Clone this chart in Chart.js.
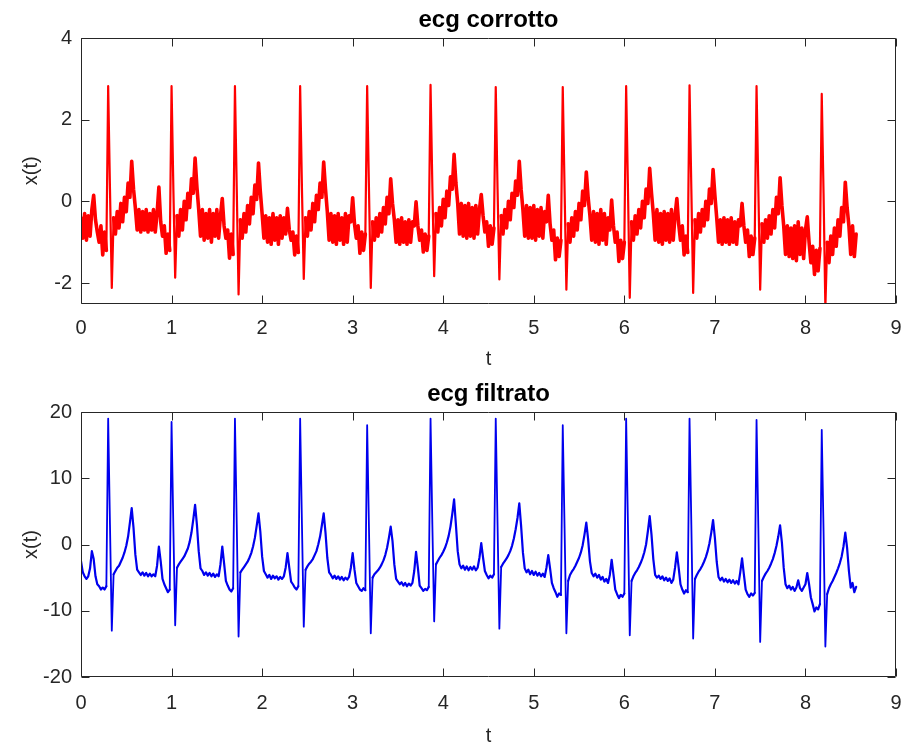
<!DOCTYPE html>
<html lang="it">
<head>
  <meta charset="UTF-8">
  <title>ecg corrotto / ecg filtrato</title>
  <script src="https://cdn.jsdelivr.net/npm/chart.js"></script>
  <style>
    html, body { margin: 0; padding: 0; background: #fff; overflow: hidden; }
    canvas { position: absolute; left: 0; }
    #top { top: 0; }
    #bottom { top: 374px; }
  </style>
</head>
<body>
  <canvas id="top" width="905" height="374"></canvas>
  <canvas id="bottom" width="905" height="374"></canvas>

  <script>
    // passo di campionamento (s): il campione i sta a t = i * dt
    const dt = 0.02;

    const xTicks = [0, 1, 2, 3, 4, 5, 6, 7, 8, 9];
    const yTicksCorrotto = [-2, 0, 2, 4];
    const yTicksFiltrato = [-20, -10, 0, 10, 20];

    // ecg corrotto, un battito per riga (dal picco R al campione prima del picco R successivo)
    const ecgCorrotto = [
      -0.4, -0.9, -0.3, -0.95, -0.35, -0.85, -0.2, 0.15, -0.45, -0.75, -1.0, -0.6, -1.31, -0.75, -1.2,
      2.82, 0.3, -2.12, -0.4, -0.8, -0.25, -0.65, -0.05, -0.5, 0.1, -0.25, 0.45, 0.1, 0.98, 0.3, -0.15, -0.7, -0.2, -0.75, -0.25, -0.7, -0.2, -0.75, -0.3, -0.7, -0.2, -0.75, -0.3, 0.35, -0.5, -0.85, -0.6, -1.27, -0.8, -1.2,
      2.82, 0.3, -1.87, -0.35, -0.85, -0.2, -0.7, 0.0, -0.45, 0.2, -0.15, 0.55, 0.2, 1.06, 0.35, -0.2, -0.85, -0.2, -0.95, -0.3, -0.9, -0.2, -1.0, -0.3, -0.85, -0.2, -0.9, -0.35, 0.07, -0.6, -0.9, -0.7, -1.39, -0.8, -1.3,
      2.82, 0.3, -2.28, -0.45, -0.9, -0.3, -0.75, -0.1, -0.55, 0.1, -0.3, 0.4, 0.05, 0.94, 0.25, -0.3, -0.9, -0.35, -1.0, -0.4, -1.05, -0.3, -0.95, -0.4, -1.05, -0.35, -0.9, -0.4, -0.8, -0.17, -0.7, -0.95, -0.75, -1.31, -0.85, -1.25,
      2.82, 0.3, -1.9, -0.4, -0.85, -0.25, -0.7, -0.05, -0.5, 0.15, -0.2, 0.45, 0.1, 0.96, 0.3, -0.25, -0.95, -0.3, -1.0, -0.35, -1.05, -0.3, -0.95, -0.4, -1.05, -0.3, -1.0, -0.35, -0.5, 0.09, -0.55, -0.9, -0.6, -1.27, -0.75, -1.2, -0.8,
      2.82, 0.3, -2.12, -0.5, -0.95, -0.4, -0.85, -0.3, -0.75, -0.15, -0.55, 0.1, -0.3, 0.55, -0.05, -0.45, -1.0, -0.45, -1.05, -0.4, -1.0, -0.5, -1.05, -0.45, -1.0, -0.5, -0.6, -0.01, -0.6, -0.95, -0.7, -1.24, -0.8, -1.2, -0.85,
      2.85, 0.35, -1.83, -0.3, -0.75, -0.15, -0.6, 0.05, -0.4, 0.25, -0.1, 0.6, 0.3, 1.15, 0.45, -0.05, -0.8, -0.05, -0.85, -0.1, -0.9, -0.05, -0.85, -0.15, -0.9, -0.1, -0.8, -0.2, 0.17, -0.35, -0.75, -0.5, -1.1, -0.6, -1.05, -0.65,
      2.8, 0.3, -1.91, -0.35, -0.8, -0.2, -0.65, 0.0, -0.45, 0.2, -0.15, 0.5, 0.15, 0.98, 0.3, -0.2, -0.85, -0.1, -0.9, -0.15, -0.9, -0.1, -0.95, -0.2, -0.85, -0.15, -0.9, -0.25, -0.5, 0.15, -0.55, -0.95, -0.7, -1.43, -0.9, -1.35, -0.95,
      2.8, 0.3, -2.16, -0.55, -1.0, -0.4, -0.85, -0.25, -0.7, -0.05, -0.45, 0.25, -0.1, 0.72, 0.1, -0.35, -0.95, -0.25, -1.0, -0.3, -1.05, -0.2, -0.95, -0.3, -1.05, -0.4, -0.7, 0.03, -0.6, -1.0, -0.75, -1.47, -0.95, -1.4, -1.0,
      2.82, 0.3, -2.36, -0.5, -0.95, -0.35, -0.8, -0.2, -0.65, 0.0, -0.4, 0.3, -0.05, 0.81, 0.2, -0.3, -0.95, -0.2, -1.0, -0.3, -1.05, -0.25, -0.95, -0.3, -1.0, -0.2, -0.95, -0.35, 0.07, -0.55, -0.95, -0.6, -1.31, -0.85, -1.25,
      2.84, 0.3, -2.24, -0.45, -0.9, -0.3, -0.75, -0.2, -0.6, 0.0, -0.45, 0.3, -0.05, 0.78, 0.15, -0.4, -1.0, -0.45, -1.05, -0.4, -1.0, -0.45, -1.05, -0.4, -1.0, -0.5, -1.05, -0.45, -0.6, -0.05, -0.6, -1.0, -0.7, -1.35, -0.85, -1.3, -0.9,
      2.82, 0.3, -2.16, -0.55, -1.0, -0.45, -0.9, -0.35, -0.8, -0.2, -0.65, 0.1, -0.3, 0.58, -0.1, -0.6, -1.3, -0.6, -1.35, -0.65, -1.4, -0.6, -1.45, -0.5, -1.3, -0.65, -1.4, -0.7, -0.38, -1.0, -1.5, -1.1, -1.79, -1.2, -1.7, -1.15,
      2.63, 0.2, -2.6, -1.0, -1.5, -0.85, -1.3, -0.65, -1.1, -0.45, -0.85, -0.15, -0.5, 0.47, -0.15, -0.6, -1.3, -0.6, -1.35, -0.8
    ];

    // ecg filtrato, stessa base dei tempi
    const ecgFiltrato = [
      -2.5, -4.2, -4.8, -5.2, -4.8, -3.6, -1.0, -2.2, -4.8, -6.0, -6.3, -6.8, -6.5, -6.8, -6.3,
      19, 3, -13, -4.5, -4.0, -3.5, -3.2, -2.6, -2.0, -1.2, -0.2, 1.2, 3.3, 5.5, 2.5, -1.5, -3.8, -4.2, -4.6, -4.2, -4.7, -4.3, -4.8, -4.4, -4.8, -4.5, -4.8, -3.2, -0.3, -2.5, -5.2, -6.0, -6.6, -7.2, -6.8,
      18.5, 2.5, -12.2, -3.5, -3.0, -2.6, -2.2, -1.8, -1.2, -0.6, 0.4, 1.8, 3.8, 6.0, 3.0, -1.0, -3.6, -4.0, -4.6, -4.2, -4.7, -4.3, -4.8, -4.4, -4.9, -4.5, -4.8, -3.0, -0.3, -2.8, -5.5, -6.2, -6.8, -7.1, -6.6,
      19, 3, -13.9, -4.2, -3.8, -3.4, -3.0, -2.6, -2.0, -1.3, -0.3, 1.0, 2.8, 4.7, 2.0, -1.8, -4.0, -4.5, -5.0, -4.6, -5.2, -4.7, -5.1, -4.8, -5.3, -4.9, -5.2, -4.8, -3.5, -1.3, -3.5, -5.6, -6.0, -6.5, -6.8, -6.3,
      19, 3, -12.4, -3.8, -3.3, -2.9, -2.6, -2.2, -1.6, -1.0, 0.0, 1.2, 2.9, 4.7, 1.8, -2.0, -4.2, -4.6, -5.1, -4.7, -5.2, -4.8, -5.3, -4.9, -5.4, -5.0, -5.3, -4.9, -3.5, -1.3, -3.8, -5.8, -6.3, -6.8, -7.0, -6.6, -6.9,
      18, 2.5, -13.4, -5.0, -4.5, -4.2, -3.9, -3.5, -3.0, -2.4, -1.6, -0.5, 1.0, 2.7, 0.5, -3.0, -5.2, -5.6, -6.0, -5.7, -6.2, -5.8, -6.3, -5.9, -6.2, -5.8, -4.0, -1.1, -3.5, -6.2, -6.6, -7.0, -6.7, -6.9, -6.4,
      19, 3, -11.6, -3.0, -2.5, -2.0, -1.6, -1.1, -0.5, 0.3, 1.3, 2.7, 4.6, 6.8, 3.0, -1.0, -3.0, -3.6, -3.2, -3.8, -3.3, -3.9, -3.4, -3.8, -3.3, -3.9, -3.5, -2.0, 0.2, -2.0, -4.0, -4.6, -5.1, -4.7, -5.0, -4.5,
      19, 3, -12.7, -3.4, -2.9, -2.5, -2.1, -1.6, -1.0, -0.2, 0.9, 2.3, 4.0, 6.2, 2.8, -1.2, -3.6, -4.2, -3.8, -4.5, -4.0, -4.6, -4.1, -4.7, -4.3, -4.8, -4.4, -4.9, -3.5, -1.6, -3.6, -5.8, -6.6, -7.2, -7.9, -7.4, -7.6,
      18, 2.5, -13.4, -5.5, -4.6, -4.1, -3.7, -3.2, -2.6, -2.0, -1.2, -0.1, 1.5, 3.3, 0.8, -2.5, -4.3, -4.8, -4.4, -5.0, -4.6, -5.3, -4.9, -5.6, -5.2, -5.8, -4.6, -2.3, -4.5, -6.8, -7.5, -8.1, -7.6, -7.9, -7.4,
      19, 3, -13.7, -5.5, -4.8, -4.3, -3.9, -3.4, -2.8, -2.1, -1.2, 0.0, 2.0, 4.3, 1.5, -2.2, -4.6, -5.0, -4.7, -5.2, -4.8, -5.4, -5.0, -5.5, -5.1, -5.8, -5.3, -3.5, -1.2, -3.5, -6.0, -6.8, -7.4, -6.9, -7.2,
      19, 3, -14.2, -5.2, -4.6, -4.1, -3.7, -3.2, -2.6, -1.9, -1.0, 0.2, 1.8, 3.7, 1.0, -2.6, -4.9, -5.4, -5.0, -5.6, -5.2, -5.7, -5.3, -5.8, -5.4, -5.9, -5.5, -6.0, -4.2, -2.1, -4.5, -6.8, -7.5, -7.9, -7.4, -7.7, -7.3,
      18.8, 2.5, -14.7, -5.5, -4.9, -4.4, -4.0, -3.5, -2.9, -2.2, -1.3, -0.2, 1.2, 2.9, 0.3, -3.5, -6.0, -6.6, -6.2, -6.8, -6.4, -7.0, -6.5, -5.4, -6.6, -7.0, -6.5, -6.0, -4.3, -6.0, -8.0, -9.0, -10.1, -9.5, -9.8, -9.0,
      17.3, 2.0, -15.4, -7.5, -6.6, -6.0, -5.5, -4.9, -4.3, -3.6, -2.8, -1.8, -0.3, 1.8, -0.5, -4.0, -6.5, -5.8, -7.2, -6.4
    ];

    const FONT = '"Liberation Sans", Arial, Helvetica, sans-serif';
    const AXIS_COLOR = '#262626';

    // cornice e tacche interne come in MATLAB (box on)
    const matlabBox = {
      id: 'matlabBox',
      afterDatasetsDraw(chart) {
        const { ctx, chartArea: a, scales: { x, y } } = chart;
        const L = Math.round(a.left) + 0.5, R = Math.round(a.right) - 0.5;
        const T = Math.round(a.top) + 0.5, B = Math.round(a.bottom) - 0.5;
        ctx.save();
        ctx.strokeStyle = AXIS_COLOR;
        ctx.lineWidth = 1;
        ctx.beginPath();
        ctx.rect(L, T, R - L, B - T);
        x.ticks.forEach(t => {
          const px = Math.round(x.getPixelForValue(t.value)) + 0.5;
          ctx.moveTo(px, B); ctx.lineTo(px, B - 8);
          ctx.moveTo(px, T); ctx.lineTo(px, T + 8);
        });
        y.ticks.forEach(t => {
          const py = Math.round(y.getPixelForValue(t.value)) + 0.5;
          ctx.moveTo(L, py); ctx.lineTo(L + 8, py);
          ctx.moveTo(R, py); ctx.lineTo(R - 8, py);
        });
        ctx.stroke();
        ctx.restore();
      }
    };

    // thin: spessore sui tratti ripidi (QRS), thick: spessore sul resto del tracciato
    function makeChart(id, title, values, color, thick, thin, steep, yMin, yMax, yTicks, plotBottom, xTickPad, xTitlePad) {
      return new Chart(document.getElementById(id), {
        type: 'line',
        data: {
          datasets: [{
            data: values.map((v, i) => ({ x: +(i * dt).toFixed(2), y: v })),
            borderColor: color,
            borderWidth: thick,
            borderJoinStyle: 'round',
            borderCapStyle: 'round',
            pointRadius: 0,
            tension: 0,
            clip: 0,
            segment: {
              borderWidth: c => Math.abs(c.p1.parsed.y - c.p0.parsed.y) > steep ? thin : thick
            }
          }]
        },
        options: {
          responsive: false,
          animation: false,
          events: [],
          layout: { padding: { left: 0, right: 9, top: 0, bottom: 0 } },
          plugins: {
            legend: { display: false },
            tooltip: { enabled: false },
            title: {
              display: true,
              text: title,
              fullSize: false,
              color: '#000',
              font: { family: FONT, size: 24, weight: 'bold', lineHeight: 1.2 },
              padding: { top: 5.6, bottom: 3.6 }
            }
          },
          scales: {
            x: {
              type: 'linear',
              min: 0,
              max: 9,
              afterBuildTicks: s => { s.ticks = xTicks.map(v => ({ value: v })); },
              afterFit: s => { s.height = 374 - plotBottom; s.paddingLeft = 0; s.paddingRight = 0; },
              grid: { display: false, drawTicks: false },
              border: { display: false },
              ticks: { color: AXIS_COLOR, padding: xTickPad, maxRotation: 0, autoSkip: false, font: { family: FONT, size: 20 } },
              title: { display: true, text: 't', color: AXIS_COLOR, font: { family: FONT, size: 20 }, padding: { top: 0, bottom: xTitlePad } }
            },
            y: {
              type: 'linear',
              min: yMin,
              max: yMax,
              afterBuildTicks: s => { s.ticks = yTicks.map(v => ({ value: v })); },
              afterFit: s => { s.width = 81; },
              grid: { display: false, drawTicks: false },
              border: { display: false },
              ticks: { color: AXIS_COLOR, padding: 9, font: { family: FONT, size: 20 } },
              title: { display: true, text: 'x(t)', color: AXIS_COLOR, font: { family: FONT, size: 20 }, padding: { top: 19, bottom: 0 } }
            }
          }
        },
        plugins: [matlabBox]
      });
    }

    makeChart('top', 'ecg corrotto', ecgCorrotto, '#ff0000', 3.6, 2.2, 1.2, -2.5, 4, yTicksCorrotto, 303.5, 13, 3);
    makeChart('bottom', 'ecg filtrato', ecgFiltrato, '#0000ee', 2.2, 1.8, 6, -20, 20, yTicksFiltrato, 303, 14, 0);
  </script>
</body>
</html>
